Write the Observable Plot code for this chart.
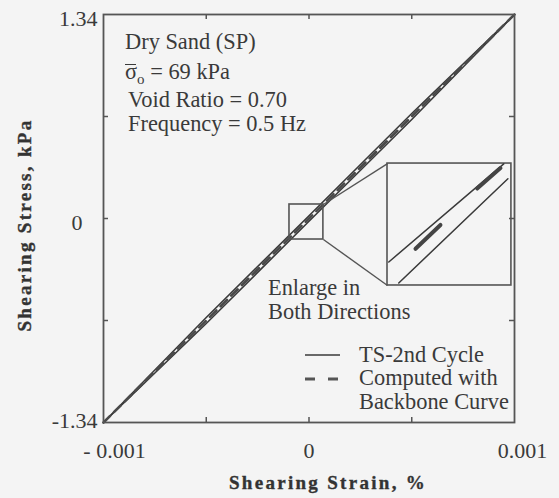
<!DOCTYPE html>
<html>
<head>
<meta charset="utf-8">
<script src="https://cdn.jsdelivr.net/npm/d3@7"></script>
<script src="https://cdn.jsdelivr.net/npm/@observablehq/plot@0.6"></script>
<style>
  html, body { margin: 0; padding: 0; background: #f4f4f4; }
  #chart { position: relative; width: 559px; height: 498px; font-family: "Liberation Serif", "Times New Roman", serif; color: #3a3a3a; }
  #chart svg.plot { position: absolute; left: 0; top: 0; }
  .note { position: absolute; font-size: 22.4px; line-height: 22px; white-space: nowrap; }
  .title { position: absolute; font-size: 19px; line-height: 22px; font-weight: bold; letter-spacing: 2.3px; white-space: nowrap; color: #333; -webkit-text-stroke: 0.35px #333; }
  .sigma { position: relative; }
  .sigma::before { content: ""; position: absolute; left: 0; right: 1px; top: 5px; border-top: 1.6px solid #3a3a3a; }
  .sub { font-size: 15px; position: relative; top: 5px; }
  svg.key { position: absolute; overflow: visible; }
</style>
</head>
<body>
<div id="chart"></div>
<script>
// Shearing strain (%) along one load cycle
const strain = [-0.001, -0.0005, 0, 0.0005, 0.001];
// TS-2nd cycle, shearing stress (kPa): unloading (upper) and reloading (lower) branches
const stressUnload = [-1.34, -0.65, 0.018, 0.69, 1.34];
const stressReload = [-1.34, -0.69, -0.018, 0.65, 1.34];
// Stress computed with the backbone curve (kPa)
const stressComputed = [-1.34, -0.67, 0, 0.67, 1.34];

// Axis ticks
const xTickValues = [-0.001, 0, 0.001];
const xTickLabels = ["- 0.001", "0", "0.001"];
const yTickValues = [-1.34, 0, 1.34];
const yTickLabels = ["-1.34", "0", "1.34"];
const xMinorTicks = [-0.0005, 0, 0.0005];
const yMinorTicks = [-0.67, 0, 0.67];

// Window around the origin that is enlarged, and where the enlargement sits
const zoomStrain = [-0.000095, 0.00007];
const zoomStress = [-0.138, 0.092];
const insetStrain = [0.000382, 0.000985];
const insetStress = [-0.44, 0.361];

// Curves inside the enlarged window (strain %, stress kPa)
const zUnloadStrain = [-0.0000933, 0.0000598];
const zUnloadStress = [-0.0937, 0.0914];
const zReloadStrain = [-0.00008, 0.0000653];
const zReloadStress = [-0.1333, 0.0632];
const zComputedStrain = [-0.0000577, -0.0000245, 0.0000244, 0.0000554];
const zComputedStress = [-0.0688, -0.0239, 0.0449, 0.0835];

// map a point of the enlarged window into the inset box
const toInsetX = x => insetStrain[0] + (x - zoomStrain[0]) / (zoomStrain[1] - zoomStrain[0]) * (insetStrain[1] - insetStrain[0]);
const toInsetY = y => insetStress[0] + (y - zoomStress[0]) / (zoomStress[1] - zoomStress[0]) * (insetStress[1] - insetStress[0]);

const rows = (xs, ys) => xs.map((x, i) => ({x, y: ys[i]}));
const mainUnload = rows(strain, stressUnload);
const mainReload = rows(strain, stressReload);
const mainComputed = rows(strain, stressComputed);
const insetUnload = rows(zUnloadStrain.map(toInsetX), zUnloadStress.map(toInsetY));
const insetReload = rows(zReloadStrain.map(toInsetX), zReloadStress.map(toInsetY));
const insetDashes = [0, 2].map(i => ({
  x1: toInsetX(zComputedStrain[i]), y1: toInsetY(zComputedStress[i]),
  x2: toInsetX(zComputedStrain[i + 1]), y2: toInsetY(zComputedStress[i + 1])
}));
const boxes = [
  {x1: zoomStrain[0], x2: zoomStrain[1], y1: zoomStress[0], y2: zoomStress[1]},
  {x1: insetStrain[0], x2: insetStrain[1], y1: insetStress[0], y2: insetStress[1]}
];
const connectors = [
  {x1: zoomStrain[1], y1: zoomStress[1], x2: insetStrain[0], y2: insetStress[1]},
  {x1: zoomStrain[1], y1: zoomStress[0], x2: insetStrain[0], y2: insetStress[0]}
];

const ink = "#3a3a3a";
const frameInk = "#555";
const xShift = [11, 0, 8];
const yShift = [{dx: 0, dy: -2}, {dx: -15, dy: 4}, {dx: 0, dy: 4}];

const plot = Plot.plot({
  width: 559,
  height: 498,
  marginLeft: 103,
  marginRight: 45,
  marginTop: 14,
  marginBottom: 76,
  style: {background: "transparent", fontFamily: "Liberation Serif, Times New Roman, serif", fontSize: "22px", color: ink},
  x: {domain: [-0.001, 0.001]},
  y: {domain: [-1.34, 1.34]},
  marks: [
    // tick labels
    ...xTickValues.map((v, i) => Plot.axisX([v], {
      anchor: "bottom", tickSize: 0, tickPadding: 20, label: null, fontSize: 22,
      tickFormat: () => xTickLabels[i], dx: xShift[i], fill: ink
    })),
    ...yTickValues.map((v, i) => Plot.axisY([v], {
      anchor: "left", tickSize: 0, tickPadding: 6, label: null, fontSize: 22,
      tickFormat: () => yTickLabels[i], dx: yShift[i].dx, dy: yShift[i].dy, fill: ink
    })),
    // short inward ticks on all four sides
    Plot.tickX(xMinorTicks, {insetTop: 403, stroke: frameInk, strokeWidth: 1.5}),
    Plot.tickX(xMinorTicks, {insetBottom: 403, stroke: frameInk, strokeWidth: 1.5}),
    Plot.tickY(yMinorTicks, {insetRight: 406, stroke: frameInk, strokeWidth: 1.5}),
    Plot.tickY(yMinorTicks, {insetLeft: 406, stroke: frameInk, strokeWidth: 1.5}),
    // hysteresis loop of the 2nd cycle and the computed curve
    Plot.line(mainUnload, {x: "x", y: "y", stroke: ink, strokeWidth: 1.6}),
    Plot.line(mainReload, {x: "x", y: "y", stroke: ink, strokeWidth: 1.6}),
    Plot.line(mainComputed, {x: "x", y: "y", stroke: "#4a4a4a", strokeWidth: 2.6, strokeDasharray: "9,6"}),
    // enlargement window, its inset and connectors
    Plot.rect(boxes, {x1: "x1", x2: "x2", y1: "y1", y2: "y2", fill: "none", stroke: frameInk, strokeWidth: 1.6}),
    Plot.link(connectors, {x1: "x1", y1: "y1", x2: "x2", y2: "y2", stroke: frameInk, strokeWidth: 1.4}),
    Plot.line(insetUnload, {x: "x", y: "y", stroke: ink, strokeWidth: 1.5}),
    Plot.line(insetReload, {x: "x", y: "y", stroke: ink, strokeWidth: 1.5}),
    Plot.link(insetDashes, {x1: "x1", y1: "y1", x2: "x2", y2: "y2", stroke: "#444", strokeWidth: 4, strokeLinecap: "round"}),
    Plot.frame({stroke: frameInk, strokeWidth: 1.8})
  ]
});
plot.classList.add("plot");

const chart = document.getElementById("chart");
chart.appendChild(plot);

function note(html, left, top, cls = "note") {
  const d = document.createElement("div");
  d.className = cls;
  d.innerHTML = html;
  d.style.left = left + "px";
  d.style.top = top + "px";
  chart.appendChild(d);
  return d;
}

// test conditions
note("Dry Sand (SP)", 125, 31);
note('<span class="sigma">σ</span><span class="sub">o</span> = 69 kPa', 125, 61);
note("Void Ratio = 0.70", 128, 89);
note("Frequency = 0.5 Hz", 128, 113);
note("Enlarge in", 268, 277);
note("Both Directions", 268, 301);

// legend
note("TS-2nd Cycle", 359, 344);
note("Computed with", 359, 367);
note("Backbone Curve", 359, 391);
const ns = "http://www.w3.org/2000/svg";
const key = document.createElementNS(ns, "svg");
key.setAttribute("class", "key");
key.setAttribute("width", 40);
key.setAttribute("height", 30);
key.style.left = "303px";
key.style.top = "350px";
key.innerHTML =
  `<line x1="2" y1="5" x2="37" y2="5" stroke="${ink}" stroke-width="1.5"/>` +
  `<line x1="2" y1="29" x2="37" y2="29" stroke="#555" stroke-width="3" stroke-dasharray="10,13"/>`;
chart.appendChild(key);

// axis titles
const xt = note("Shearing Strain, %", 328, 472, "title");
xt.style.transform = "translateX(-50%)";
const yt = note("Shearing Stress, kPa", 25, 225, "title");
yt.style.transform = "translate(-50%, -50%) rotate(-90deg)";
</script>
</body>
</html>
